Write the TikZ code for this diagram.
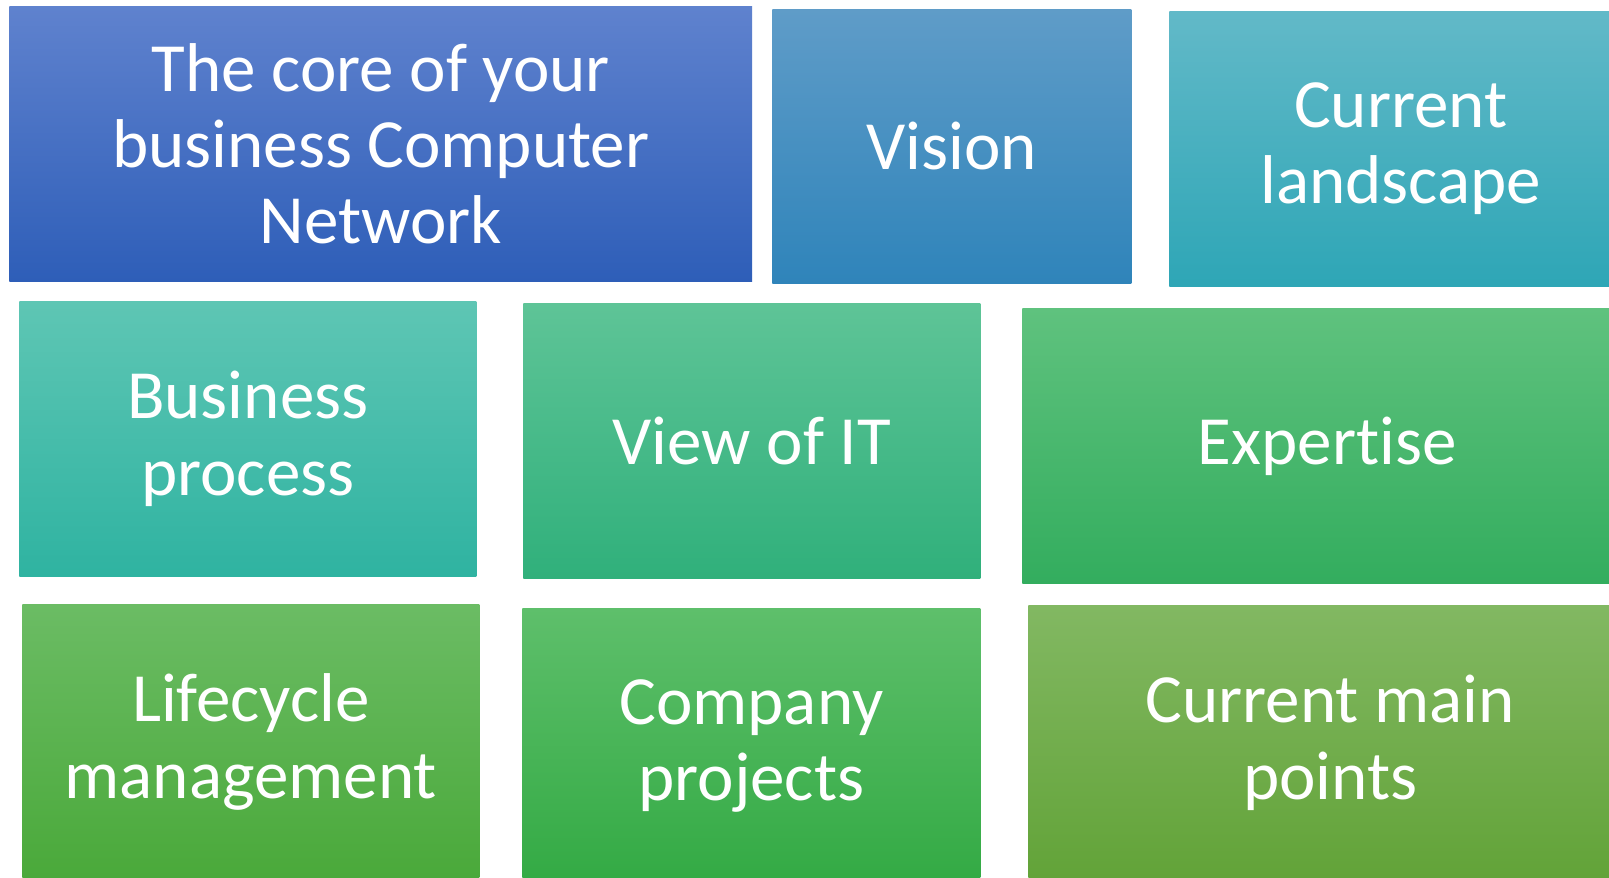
\documentclass[tikz,border=0pt]{standalone}
\usepackage{fontspec}
\setmainfont{Carlito}[Ligatures=NoCommon]

\definecolor{c1t}{HTML}{5F82CE}
\definecolor{c1b}{HTML}{2E5EB8}
\definecolor{c2t}{HTML}{5F9CC8}
\definecolor{c2b}{HTML}{2F84BA}
\definecolor{c3t}{HTML}{62B9C8}
\definecolor{c3b}{HTML}{2EA6B6}
\definecolor{c4t}{HTML}{5EC6B4}
\definecolor{c4b}{HTML}{2FB3A1}
\definecolor{c5t}{HTML}{5EC497}
\definecolor{c5b}{HTML}{30B07B}
\definecolor{c6t}{HTML}{5FC27E}
\definecolor{c6b}{HTML}{33AD5E}
\definecolor{c7t}{HTML}{6BBC64}
\definecolor{c7b}{HTML}{4AA93A}
\definecolor{c8t}{HTML}{5EBF6B}
\definecolor{c8b}{HTML}{33AA44}
\definecolor{c9t}{HTML}{82B862}
\definecolor{c9b}{HTML}{62A338}

\begin{document}
\begin{tikzpicture}[x=0.02cm,y=-0.02cm,
  box/.style={anchor=north west,inner sep=0pt,align=center,text=white,
    font=\fontsize{39.3}{43.5}\selectfont,minimum height=5.5cm}]

  \clip (0,0) rectangle (1609,877);
  \fill[white] (0,0) rectangle (1609,877);

  % first row
  \node[box,minimum width=14.86cm,top color=c1t,bottom color=c1b] (1) at (9,6) {The core of your\\business Computer\\Network};
  \node[box,minimum width=7.18cm,minimum height=5.48cm,top color=c2t,bottom color=c2b] (2) at (772,9) {Vision};
  \node[box,minimum width=9.26cm,top color=c3t,bottom color=c3b] (3) at (1169,11) {Current\\landscape};

  % second row
  \node[box,minimum width=9.14cm,top color=c4t,bottom color=c4b] (4) at (19,301) {Business\\process};
  \node[box,minimum width=9.14cm,top color=c5t,bottom color=c5b] (5) at (523,303) {View of IT};
  \node[box,minimum width=12.2cm,top color=c6t,bottom color=c6b] (6) at (1022,308) {Expertise};

  % third row
  \node[box,minimum width=9.14cm,top color=c7t,bottom color=c7b] (7) at (22,604) {Lifecycle\\management};
  \node[box,minimum width=9.16cm,top color=c8t,bottom color=c8b] (8) at (522,608) {Company\\projects};
  \node[box,minimum width=12.08cm,top color=c9t,bottom color=c9b] (9) at (1028,605) {Current main\\points};
\end{tikzpicture}
\end{document}
